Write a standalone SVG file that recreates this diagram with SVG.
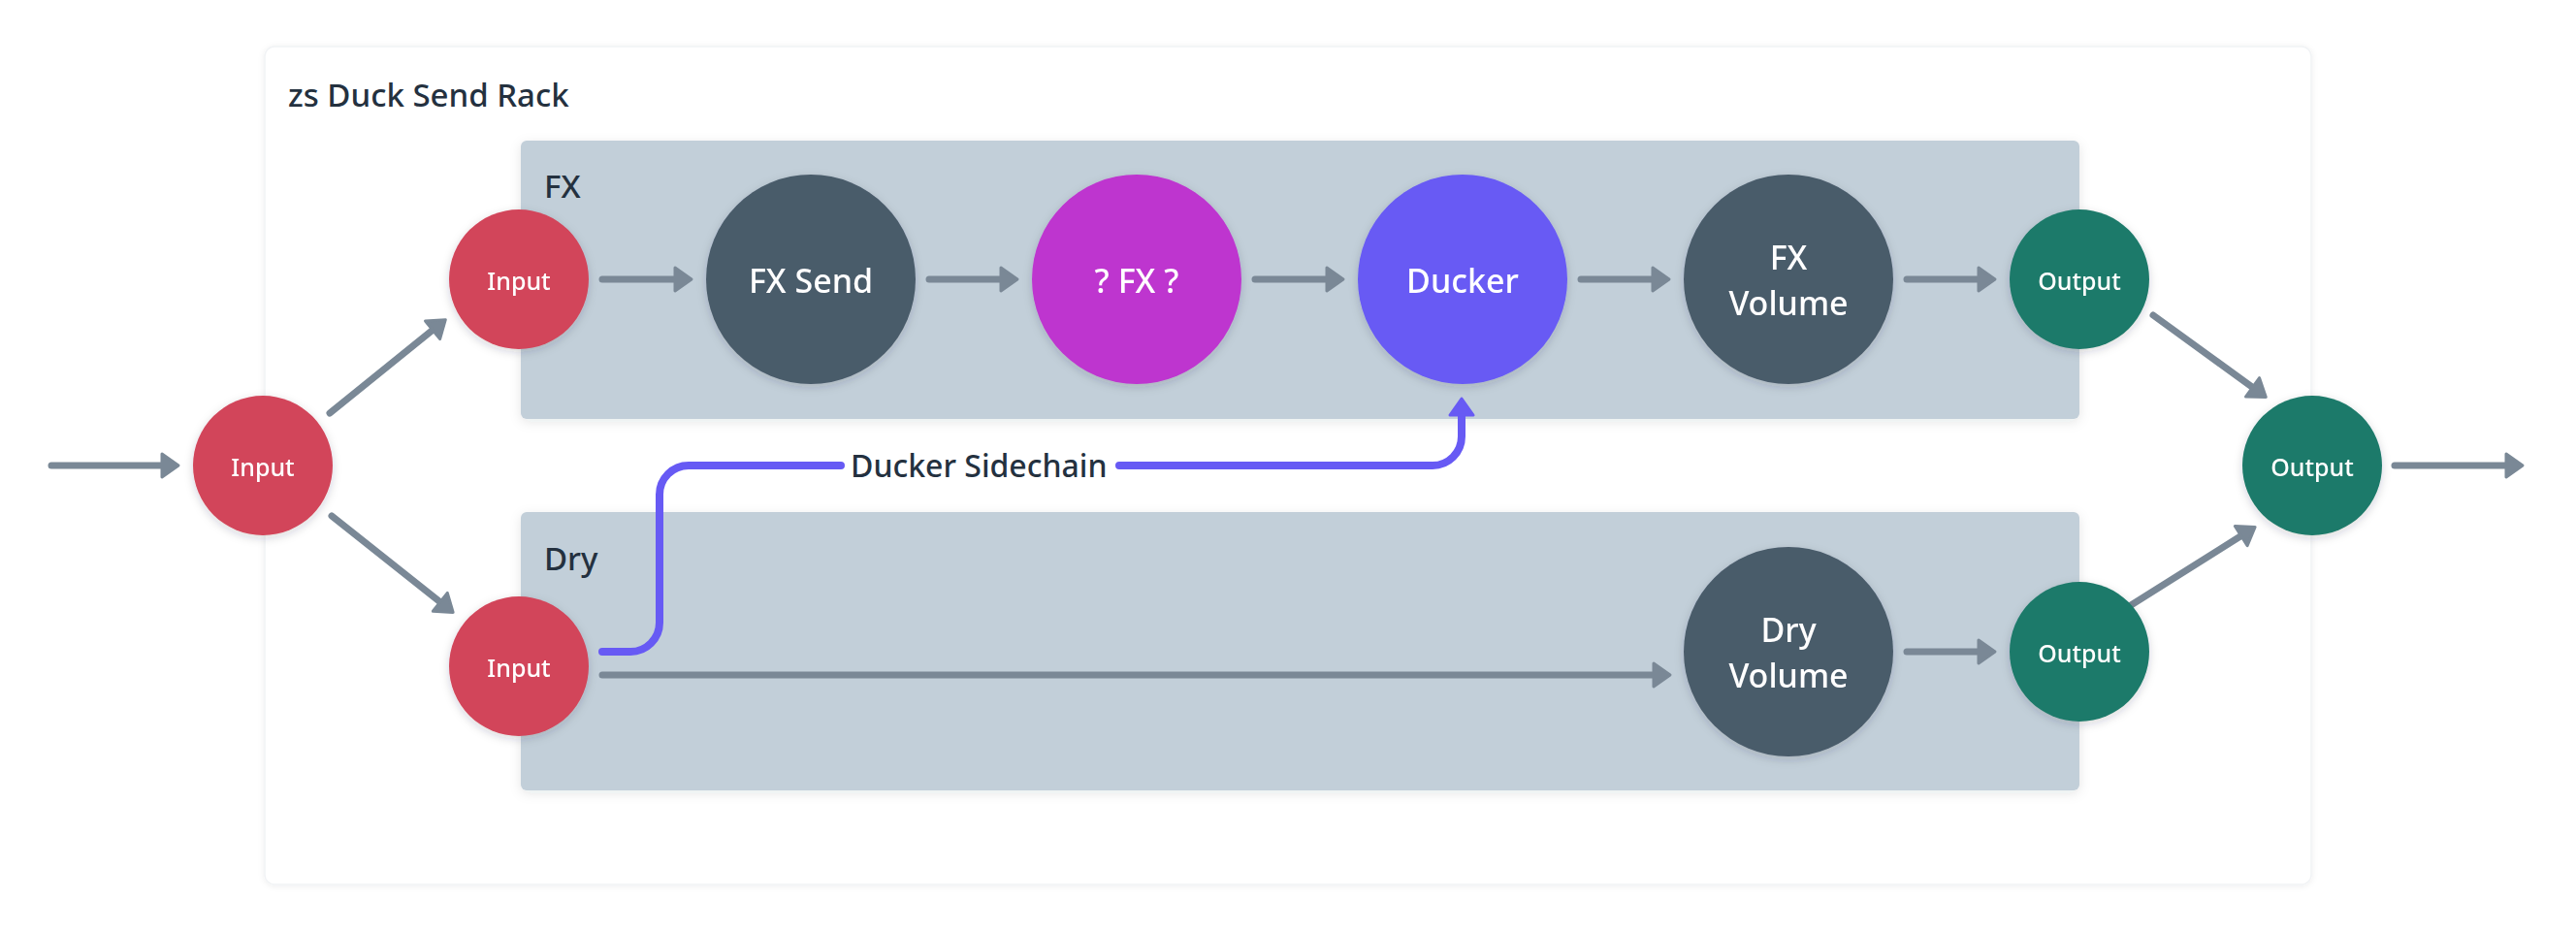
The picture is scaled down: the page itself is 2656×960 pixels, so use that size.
<svg xmlns="http://www.w3.org/2000/svg" width="2656" height="960" viewBox="0 0 2656 960">
<defs>
<filter id="sh" x="-30%" y="-30%" width="160%" height="160%">
<feDropShadow dx="0" dy="3" stdDeviation="5" flood-color="#1a2a3a" flood-opacity="0.18"/>
</filter>
<filter id="shg" x="-5%" y="-10%" width="110%" height="125%">
<feDropShadow dx="0" dy="3" stdDeviation="6" flood-color="#1a2a3a" flood-opacity="0.10"/>
</filter>
<filter id="shc" x="-5%" y="-5%" width="110%" height="110%">
<feDropShadow dx="0" dy="1" stdDeviation="3" flood-color="#1a2a3a" flood-opacity="0.07"/>
</filter>
<marker id="ah" markerUnits="userSpaceOnUse" markerWidth="40" markerHeight="40" viewBox="-20 -20 40 40" refX="0" refY="0" orient="auto" overflow="visible">
<path d="M-8,-12 L9,0 L-8,12 Z" fill="#7a8896" stroke="#7a8896" stroke-width="3" stroke-linejoin="round"/>
</marker>
<marker id="ahp" markerUnits="userSpaceOnUse" markerWidth="40" markerHeight="40" viewBox="-20 -20 40 40" refX="0" refY="0" orient="auto" overflow="visible">
<path d="M-8,-12 L9,0 L-8,12 Z" fill="#675af4" stroke="#675af4" stroke-width="3" stroke-linejoin="round"/>
</marker>
</defs>
<style>
text{font-family:"Noto Sans","Liberation Sans",sans-serif;font-weight:500}
.lbl{fill:#24313f;font-size:33px}
.side{fill:#24313f;font-size:32px}
.big{fill:#ffffff;font-size:34px;text-anchor:middle}
.sm{fill:#ffffff;font-size:25px;text-anchor:middle}
.grp{fill:#c2cfd9}
.e{fill:none;stroke:#7a8896;stroke-width:7;stroke-linecap:round;marker-end:url(#ah)}
.p{fill:none;stroke:#675af4;stroke-width:8;stroke-linecap:round;stroke-linejoin:round}
.red{fill:#d2455a}
.slate{fill:#4a5b6b}
.mag{fill:#be35cf}
.vio{fill:#675af4}
.grn{fill:#1f7a6a}
</style>
<rect width="2656" height="960" fill="#ffffff"/>
<g id="rack">
<rect x="273" y="48" width="2110" height="864" rx="10" fill="#ffffff" stroke="#f1f3f5" stroke-width="1.5" filter="url(#shc)"/>
<text class="lbl" x="297" y="110">zs Duck Send Rack</text>
</g>
<g id="group-fx">
<rect class="grp" x="537" y="145" width="1607" height="287" rx="6" filter="url(#shg)"/>
<text class="lbl" x="561" y="204">FX</text>
</g>
<g id="group-dry">
<rect class="grp" x="537" y="528" width="1607" height="287" rx="6" filter="url(#shg)"/>
<text class="lbl" x="561" y="588">Dry</text>
</g>
<g id="connectors">
<path class="e" d="M53,480 H175"/>
<path class="e" d="M340,426 L452.3,335.3"/>
<path class="e" d="M342,532 L460.1,625.8"/>
<path class="e" d="M621,288 H704"/>
<path class="e" d="M958,288 H1040"/>
<path class="e" d="M1294,288 H1376"/>
<path class="e" d="M1630,288 H1712"/>
<path class="e" d="M1966,288 H2048"/>
<path class="e" d="M2220,325 L2329,404.1"/>
<path class="e" d="M621,696 H1713"/>
<path class="e" d="M1966,672 H2048"/>
<path class="e" d="M2194,626 L2317.5,548.3"/>
<path class="e" d="M2469,480 H2592"/>
<path class="p" d="M621,672 H650 A30,30 0 0 0 680,642 V510 A30,30 0 0 1 710,480 H867"/>
<path class="p" d="M1154,480 H1477 A30,30 0 0 0 1507,450 V420" marker-end="url(#ahp)"/>
<text class="side" x="877" y="492">Ducker Sidechain</text>
</g>
<g id="node-input" filter="url(#sh)">
<circle class="red" cx="271" cy="480" r="72"/>
<text class="sm" x="271" y="491">Input</text>
</g>
<g id="node-fx-input" filter="url(#sh)">
<circle class="red" cx="535" cy="288" r="72"/>
<text class="sm" x="535" y="299">Input</text>
</g>
<g id="node-fx-send" filter="url(#sh)">
<circle class="slate" cx="836" cy="288" r="108"/>
<text class="big" x="836" y="302">FX Send</text>
</g>
<g id="node-fx" filter="url(#sh)">
<circle class="mag" cx="1172" cy="288" r="108"/>
<text class="big" x="1172" y="302">? FX ?</text>
</g>
<g id="node-ducker" filter="url(#sh)">
<circle class="vio" cx="1508" cy="288" r="108"/>
<text class="big" x="1508" y="302">Ducker</text>
</g>
<g id="node-fx-volume" filter="url(#sh)">
<circle class="slate" cx="1844" cy="288" r="108"/>
<text class="big" x="1844" y="278">FX</text>
<text class="big" x="1844" y="325">Volume</text>
</g>
<g id="node-fx-output" filter="url(#sh)">
<circle class="grn" cx="2144" cy="288" r="72"/>
<text class="sm" x="2144" y="299">Output</text>
</g>
<g id="node-dry-input" filter="url(#sh)">
<circle class="red" cx="535" cy="687" r="72"/>
<text class="sm" x="535" y="698">Input</text>
</g>
<g id="node-dry-volume" filter="url(#sh)">
<circle class="slate" cx="1844" cy="672" r="108"/>
<text class="big" x="1844" y="662">Dry</text>
<text class="big" x="1844" y="709">Volume</text>
</g>
<g id="node-dry-output" filter="url(#sh)">
<circle class="grn" cx="2144" cy="672" r="72"/>
<text class="sm" x="2144" y="683">Output</text>
</g>
<g id="node-output" filter="url(#sh)">
<circle class="grn" cx="2384" cy="480" r="72"/>
<text class="sm" x="2384" y="491">Output</text>
</g>
</svg>
